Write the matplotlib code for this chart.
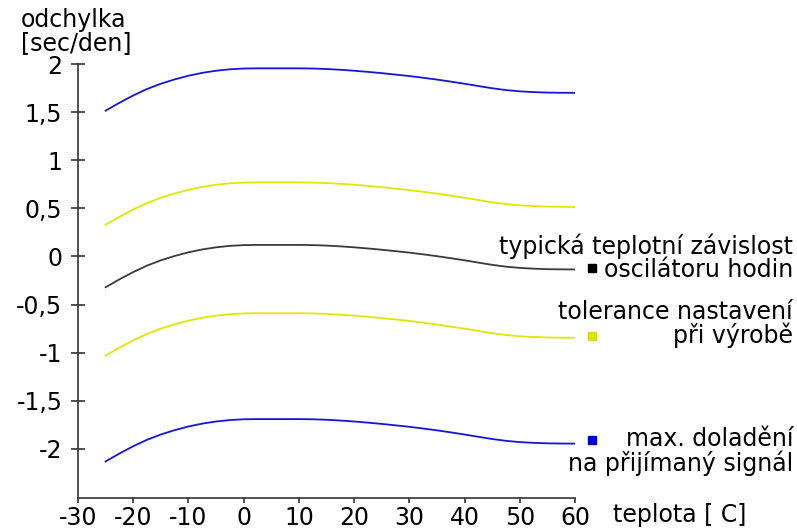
import matplotlib
matplotlib.use("Agg")
import matplotlib.pyplot as plt

plt.rcParams['font.family'] = ['DejaVu Sans']

temps = [-25, -22.5, -20, -17.5, -15, -12.5, -10, -7.5, -5, -2.5, 0, 2.5, 5, 7.5, 10, 12.5,
         15, 17.5, 20, 22.5, 25, 27.5, 30, 32.5, 35, 37.5, 40, 42.5, 45, 47.5, 50, 52.5,
         55, 57.5, 60]
typical = [-0.32, -0.238, -0.162, -0.095, -0.04, 0.005, 0.043, 0.073, 0.095, 0.11, 0.118,
           0.12, 0.12, 0.12, 0.12, 0.118, 0.113, 0.105, 0.095, 0.083, 0.07, 0.055, 0.04,
           0.022, 0.003, -0.018, -0.04, -0.064, -0.087, -0.106, -0.119, -0.127, -0.132,
           -0.134, -0.135]
tol_upper = [0.33, 0.412, 0.488, 0.555, 0.61, 0.655, 0.693, 0.723, 0.745, 0.76, 0.768,
             0.77, 0.77, 0.77, 0.77, 0.768, 0.763, 0.755, 0.745, 0.733, 0.72, 0.705, 0.69,
             0.672, 0.653, 0.632, 0.61, 0.586, 0.563, 0.544, 0.531, 0.523, 0.518, 0.516, 0.515]
tol_lower = [-1.03, -0.948, -0.872, -0.805, -0.75, -0.705, -0.667, -0.637, -0.615, -0.60,
             -0.592, -0.59, -0.59, -0.59, -0.59, -0.592, -0.597, -0.605, -0.615, -0.627,
             -0.64, -0.655, -0.67, -0.688, -0.707, -0.728, -0.75, -0.774, -0.797, -0.816,
             -0.829, -0.837, -0.842, -0.844, -0.845]
max_upper = [1.515, 1.597, 1.673, 1.74, 1.795, 1.84, 1.878, 1.908, 1.93, 1.945, 1.953,
             1.955, 1.955, 1.955, 1.955, 1.953, 1.948, 1.94, 1.93, 1.918, 1.905, 1.89, 1.875,
             1.857, 1.838, 1.817, 1.795, 1.771, 1.748, 1.729, 1.716, 1.708, 1.703, 1.701, 1.70]
max_lower = [-2.13, -2.048, -1.972, -1.905, -1.85, -1.805, -1.767, -1.737, -1.715, -1.70,
             -1.692, -1.69, -1.69, -1.69, -1.69, -1.692, -1.697, -1.705, -1.715, -1.727,
             -1.74, -1.755, -1.77, -1.788, -1.807, -1.828, -1.85, -1.874, -1.897, -1.916,
             -1.929, -1.937, -1.942, -1.944, -1.945]

x_ticks = [-30, -20, -10, 0, 10, 20, 30, 40, 50, 60]
y_ticks = [2, 1.5, 1, 0.5, 0, -0.5, -1, -1.5, -2]
y_tick_labels = ['2', '1,5', '1', '0,5', '0', '-0,5', '-1', '-1,5', '-2']

legend_lines = [
    ("typická teplotní závislost", "oscilátoru hodin"),
    ("tolerance nastavení", "při výrobě"),
    ("max. doladění", "na přijímaný signál"),
]
legend_marker_y = [-0.125, -0.83, -1.91]
legend_baselines_px = [(254, 277), (319, 343), (446, 471)]

BLUE = '#1414DC'
YELLOW = '#E3E600'
DARK = '#3A3A3A'
FS = 17

W, H = 797, 529
fig = plt.figure(figsize=(W / 100, H / 100), dpi=100)
ax = fig.add_axes([78 / W, 1 - 498 / H, (575 - 78) / W, (498 - 64) / H])

ax.plot(temps, max_upper, color=BLUE, lw=1.3)
ax.plot(temps, max_lower, color=BLUE, lw=1.3)
ax.plot(temps, tol_upper, color=YELLOW, lw=1.3)
ax.plot(temps, tol_lower, color=YELLOW, lw=1.3)
ax.plot(temps, typical, color=DARK, lw=1.3)

ax.set_xlim(-30, 60)
ax.set_ylim(-2.51, 2.0)
for s in ['top', 'right']:
    ax.spines[s].set_visible(False)
for s in ['left', 'bottom']:
    ax.spines[s].set_color('#333333')
    ax.spines[s].set_linewidth(1.2)

ax.set_xticks(x_ticks)
ax.set_xticklabels([str(v) for v in x_ticks])
ax.set_yticks(y_ticks)
ax.set_yticklabels(y_tick_labels)
ax.tick_params(axis='y', direction='inout', length=9.5, width=1.2, color='#333333',
               labelsize=FS, pad=6.5)
ax.tick_params(axis='x', direction='out', length=3.6, width=1.2, color='#333333',
               labelsize=FS, pad=2.0)

marker_colors = ['black', '#E0E000', '#0000D0']
for yv, mc in zip(legend_marker_y, marker_colors):
    ax.plot([63.0], [yv], marker='s', ms=5.5, color=mc, clip_on=False, ls='none')

for (l1, l2), (b1, b2) in zip(legend_lines, legend_baselines_px):
    fig.text(793 / W, 1 - b1 / H, l1, ha='right', va='baseline', fontsize=FS)
    fig.text(793 / W, 1 - b2 / H, l2, ha='right', va='baseline', fontsize=FS)

fig.text(21 / W, 1 - 27 / H, "odchylka", ha='left', va='baseline', fontsize=FS)
fig.text(21 / W, 1 - 50 / H, "[sec/den]", ha='left', va='baseline', fontsize=FS)
fig.text(613 / W, 1 - 522 / H, "teplota [ C]", ha='left', va='baseline', fontsize=FS)

fig.savefig("out.png", dpi=100)
